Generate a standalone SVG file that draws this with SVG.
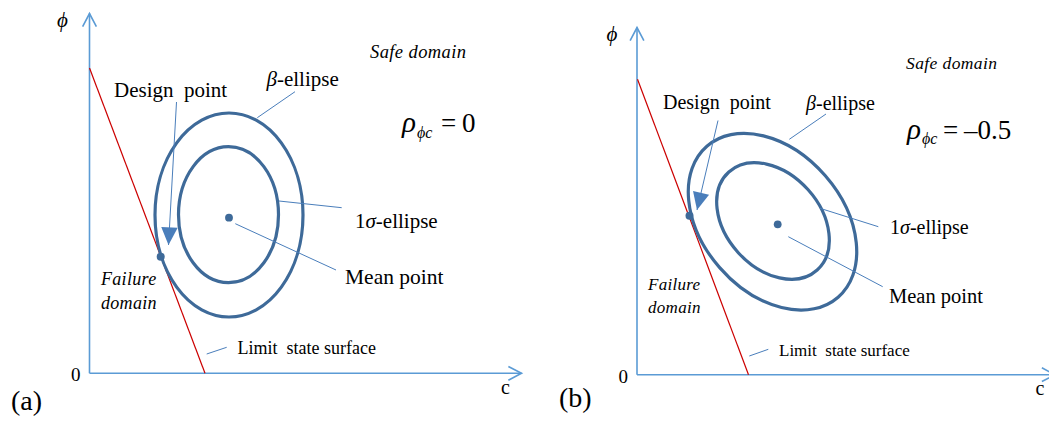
<svg xmlns="http://www.w3.org/2000/svg" width="1049" height="422" viewBox="0 0 1049 422">
<defs>
<marker id="chev" markerUnits="userSpaceOnUse" markerWidth="20" markerHeight="20" viewBox="-12 -8 14 16" refX="0" refY="0" orient="auto" overflow="visible">
<path d="M-10.5,-5.5 L0,0 L-10.5,5.5" fill="none" stroke="#5B9BD5" stroke-width="1.3"/>
</marker>
<marker id="tri" markerUnits="userSpaceOnUse" markerWidth="20" markerHeight="20" viewBox="-16 -8 17 16" refX="0" refY="0" orient="auto" overflow="visible">
<path d="M-15,-7 L0,0 L-15,7 Z" fill="#4A7EBB"/>
</marker>
</defs>
<style>
.axis{stroke:#5B9BD5;stroke-width:1.6;fill:none}
.lsf{stroke:#CC0000;stroke-width:1.2;fill:none}
.ell{stroke:#3E6A99;stroke-width:3.2;fill:none}
.dot{fill:#3E6A99}
.lead{stroke:#4A7EBB;stroke-width:1;fill:none}
.arr{stroke:#4A7EBB;stroke-width:1;fill:none}
text{font-family:"Liberation Serif","Times New Roman",serif;fill:#000}
.it{font-style:italic}
.pre{white-space:pre}
</style>
<rect width="1049" height="422" fill="#fff"/>

<!-- Panel (a) -->
<g id="panel-a">
<g id="a-axes">
<line class="axis" x1="89.5" y1="373.3" x2="89.5" y2="13.5" marker-end="url(#chev)"/>
<line class="axis" x1="89.5" y1="373.3" x2="521.5" y2="373.3" marker-end="url(#chev)"/>
<text class="it" x="57" y="27" font-size="21">ϕ</text>
<text x="71" y="381" font-size="19">0</text>
<text x="501" y="393.5" font-size="20">c</text>
<text x="11" y="410" font-size="28">(a)</text>
</g>
<g id="a-limit-state-surface">
<line class="lsf" x1="89.5" y1="68" x2="205" y2="373.3"/>
</g>
<g id="a-beta-ellipse"><ellipse class="ell" cx="229" cy="215" rx="74" ry="102"/></g>
<g id="a-1sigma-ellipse"><ellipse class="ell" cx="228.5" cy="214.7" rx="50" ry="68"/></g>
<g id="a-mean-point"><circle class="dot" cx="229" cy="217.7" r="3.9"/></g>
<g id="a-design-point"><circle class="dot" cx="160.7" cy="256.8" r="4"/></g>
<g id="a-labels">
<text class="it" x="370" y="57.5" font-size="18.5" letter-spacing="0.4">Safe domain</text>
<text class="pre" x="114" y="97" font-size="21">Design  point</text>
<text x="266.5" y="86" font-size="21"><tspan class="it">β</tspan>-ellipse</text>
<text x="355" y="227.5" font-size="21">1<tspan class="it">σ</tspan>-ellipse</text>
<text x="345" y="284" font-size="21.5">Mean point</text>
<text class="it" x="101" y="285" font-size="18" letter-spacing="0.3">Failure</text>
<text class="it" x="101" y="308.5" font-size="18" letter-spacing="0.3">domain</text>
<text class="pre" x="237.5" y="354" font-size="18">Limit  state surface</text>
<text y="132" font-size="27"><tspan class="it" x="402" font-size="29">ρ</tspan><tspan class="it" x="417" y="137.5" font-size="16">ϕc</tspan><tspan x="441" y="132">=</tspan><tspan x="462" y="132">0</tspan></text>
</g>
</g>

<!-- Panel (b) -->
<g id="panel-b">
<g id="b-axes">
<line class="axis" x1="637" y1="374.7" x2="637" y2="27.5" marker-end="url(#chev)"/>
<line class="axis" x1="637" y1="374.7" x2="1055" y2="374.7" marker-end="url(#chev)"/>
<text class="it" x="606.5" y="41" font-size="21">ϕ</text>
<text x="618.5" y="382.7" font-size="19">0</text>
<text x="1035.5" y="395" font-size="20">c</text>
<text x="559" y="407" font-size="28">(b)</text>
</g>
<g id="b-limit-state-surface">
<line class="lsf" x1="637.5" y1="79.3" x2="748.5" y2="374.7"/>
</g>
<g id="b-beta-ellipse"><ellipse class="ell" cx="772.5" cy="221.7" rx="100" ry="70" transform="rotate(49 772.5 221.7)"/></g>
<g id="b-1sigma-ellipse"><ellipse class="ell" cx="773" cy="221" rx="66" ry="47" transform="rotate(48 773 221)"/></g>
<g id="b-mean-point"><circle class="dot" cx="777.7" cy="224.3" r="3.9"/></g>
<g id="b-design-point"><circle class="dot" cx="689.5" cy="215.7" r="4"/></g>
<g id="b-labels">
<text class="it" x="906" y="69" font-size="17.5" letter-spacing="0.4">Safe domain</text>
<text class="pre" x="663" y="109" font-size="20">Design  point</text>
<text x="806" y="110" font-size="20"><tspan class="it">β</tspan>-ellipse</text>
<text x="890" y="234" font-size="20">1<tspan class="it">σ</tspan>-ellipse</text>
<text x="889" y="302.5" font-size="20.5">Mean point</text>
<text class="it" x="648" y="289.5" font-size="17" letter-spacing="0.3">Failure</text>
<text class="it" x="648" y="312.5" font-size="17" letter-spacing="0.3">domain</text>
<text class="pre" x="779" y="356" font-size="17">Limit  state surface</text>
<text y="138.5" font-size="27"><tspan class="it" x="907" font-size="29">ρ</tspan><tspan class="it" x="922" y="144" font-size="16">ϕc</tspan><tspan x="943" y="138.5">=</tspan><tspan x="964" y="138.5">–0.5</tspan></text>
</g>
</g>

<!-- Connectors -->
<g id="connectors">
<line class="arr" x1="176.5" y1="102" x2="168.5" y2="245" marker-end="url(#tri)"/>
<line class="lead" x1="295" y1="91.7" x2="257.3" y2="117.7"/>
<line class="lead" x1="279" y1="201" x2="341.7" y2="207.7"/>
<line class="lead" x1="235.3" y1="223.7" x2="336" y2="270"/>
<line class="lead" x1="206.7" y1="354" x2="226.7" y2="347.3"/>
<line class="arr" x1="718" y1="120.5" x2="697" y2="210" marker-end="url(#tri)"/>
<line class="lead" x1="826" y1="114" x2="789.3" y2="139.3"/>
<line class="lead" x1="820" y1="208.3" x2="878.3" y2="226.7"/>
<line class="lead" x1="788.3" y1="236.7" x2="882.7" y2="286.7"/>
<line class="lead" x1="749.3" y1="356" x2="768.3" y2="349.3"/>
</g>
</svg>
